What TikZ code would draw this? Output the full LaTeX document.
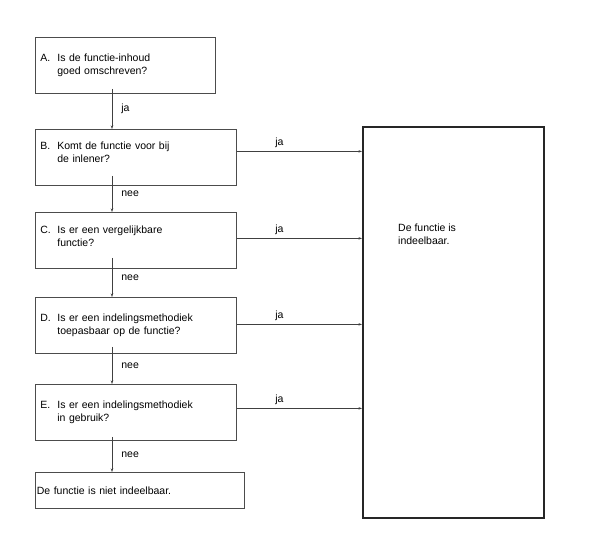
\documentclass[tikz,border=0pt]{standalone}
\usepackage{fontspec}
\setmainfont{Liberation Sans}
\usetikzlibrary{arrows.meta,calc}

\tikzset{
  tekst/.style={font=\fontsize{10.5}{12.5}\selectfont},
  vak/.style={tekst, draw=black!70, line width=0.8pt, anchor=north west,
    minimum height=56pt, inner xsep=5pt, align=left},
  pijl/.style={draw=black!75, line width=0.7pt, -{Stealth[length=3.5pt,width=2.5pt]}},
  lbl/.style={tekst, inner sep=1pt},
}
\newcommand{\vraag}[3]{\makebox[17pt][l]{#1}#2\\\hspace*{17pt}#3}

\begin{document}
\begin{tikzpicture}[x=1pt,y=-1pt]

\useasboundingbox (0,0) rectangle (589,545) ;

\coordinate (as) at (112,0) ;

% vragen
\node[vak, text width=170pt] (A) at (35,37) {\vraag{A.}{Is de functie-inhoud}{goed omschreven?}} ;
\node[vak, text width=191pt] (B) at (35,129) {\vraag{B.}{Komt de functie voor bij}{de inlener?\\[-2pt]\mbox{}}} ;
\node[vak, text width=191pt] (C) at (35,212) {\vraag{C.}{Is er een vergelijkbare}{functie?\\[-4pt]\mbox{}}} ;
\node[vak, text width=191pt] (D) at (35,297) {\vraag{D.}{Is er een indelingsmethodiek}{toepasbaar op de functie?}} ;
\node[vak, text width=191pt] (E) at (35,384) {\vraag{E.}{Is er een indelingsmethodiek}{in gebruik?}} ;
\node[vak, text width=206pt, inner xsep=1.5pt, minimum height=36pt] (F) at (35,472) {De functie is niet indeelbaar.} ;

% uitkomst
\node[draw=black!85, line width=1.6pt, anchor=north west, minimum width=181pt, minimum height=391pt] (G) at (362,126) {} ;
\node[tekst, anchor=north west, align=left, inner sep=0pt] (Gtekst) at (398,224) {De functie is\\indeelbaar.} ;

% nee / ja naar beneden
\draw[pijl] ($(A.south -| as)+(0,-5)$) -- (B.north -| as) node[lbl, midway, right=8pt] {ja} ;
\draw[pijl] ($(B.south -| as)+(0,-10)$) -- (C.north -| as) node[lbl, midway, right=8pt] {nee} ;
\draw[pijl] ($(C.south -| as)+(0,-11)$) -- (D.north -| as) node[lbl, midway, right=8pt] {nee} ;
\draw[pijl] ($(D.south -| as)+(0,-7)$) -- (E.north -| as) node[lbl, midway, right=8pt] {nee} ;
\draw[pijl] ($(E.south -| as)+(0,-4)$) -- (F.north -| as) node[lbl, midway, right=8pt] {nee} ;

% ja naar rechts
\draw[pijl] ($(B.east)+(0,-6)$) -- ($(B.east -| G.west)+(0,-6)$) node[lbl, pos=0.34, above=2pt] {ja} ;
\draw[pijl] ($(C.east)+(0,-2)$) -- ($(C.east -| G.west)+(0,-2)$) node[lbl, pos=0.34, above=2pt] {ja} ;
\draw[pijl] ($(D.east)+(0,-1)$) -- ($(D.east -| G.west)+(0,-1)$) node[lbl, pos=0.34, above=2pt] {ja} ;
\draw[pijl] ($(E.east)+(0,-4)$) -- ($(E.east -| G.west)+(0,-4)$) node[lbl, pos=0.34, above=2pt] {ja} ;

\end{tikzpicture}
\end{document}
